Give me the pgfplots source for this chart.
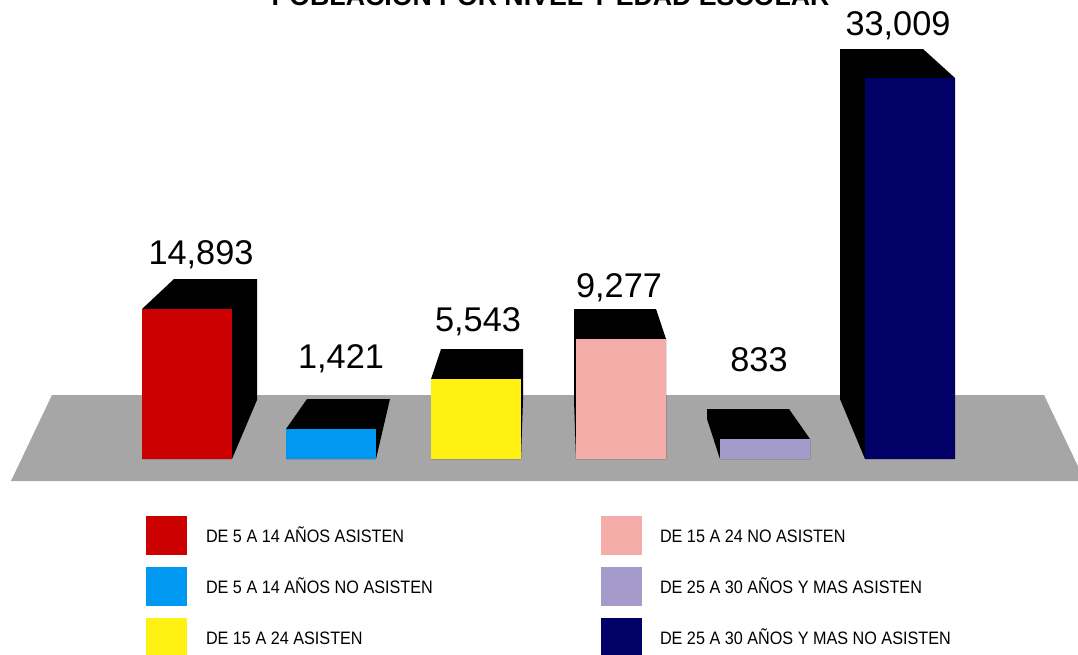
\documentclass[border=0pt]{standalone}
\usepackage{fontspec}
\setmainfont{Liberation Sans}
\newfontfamily\legfont[FakeStretch=0.9]{Liberation Sans}
\usepackage{pgfplots}
\pgfplotsset{compat=1.18}
\definecolor{cfloor}{HTML}{A6A6A6}
\definecolor{cred}{HTML}{CC0000}
\definecolor{cblue}{HTML}{0098F0}
\definecolor{cyel}{HTML}{FFF212}
\definecolor{cpink}{HTML}{F5ADAA}
\definecolor{cpur}{HTML}{A59BCB}
\definecolor{cnavy}{HTML}{000066}
\begin{document}
\begin{tikzpicture}
\path[use as bounding box,clip] (0,0) rectangle (1078pt,654pt);
\begin{axis}[
  at={(0,0)},anchor=south west,
  width=1078pt,height=654pt,scale only axis,
  xmin=0,xmax=1078,ymin=0,ymax=654,y dir=reverse,
  hide axis,clip=false,
  nodes near coords,point meta=explicit symbolic,
  every node near coord/.style={inner sep=0pt,outer sep=0pt,text=black},
]
% floor
\addplot[fill=cfloor,draw=none,nodes near coords=] coordinates {(52,395)(1044,395)(1085,481)(11,481)};
% black 3-D parts
\addplot[fill=black,draw=none,nodes near coords=] coordinates {(142,309)(174,279)(257,279)(257,400)(232,459)(142,459)};
\addplot[fill=black,draw=none,nodes near coords=] coordinates {(286,429)(307,399)(390,399)(376,459)(286,459)};
\addplot[fill=black,draw=none,nodes near coords=] coordinates {(431,379)(441,349)(523,349)(523,400)(521,459)(431,459)};
\addplot[fill=black,draw=none,nodes near coords=] coordinates {(574,309)(656,309)(666,339)(666,459)(576,459)(574,400)};
\addplot[fill=black,draw=none,nodes near coords=] coordinates {(707,409)(789,409)(810,439)(810,459)(720,459)(707,419)};
\addplot[fill=black,draw=none,nodes near coords=] coordinates {(840,49)(923,49)(955,78)(955,459)(865,459)(840,399)};
% fronts
\addplot[fill=cred,draw=none,nodes near coords=] coordinates {(142,309)(232,309)(232,459)(142,459)};
\addplot[fill=cblue,draw=none,nodes near coords=] coordinates {(286,429)(376,429)(376,459)(286,459)};
\addplot[fill=cyel,draw=none,nodes near coords=] coordinates {(431,379)(521,379)(521,459)(431,459)};
\addplot[fill=cpink,draw=none,nodes near coords=] coordinates {(576,339)(666,339)(666,459)(576,459)};
\addplot[fill=cpur,draw=none,nodes near coords=] coordinates {(720,439)(810,439)(810,459)(720,459)};
\addplot[fill=cnavy,draw=none,nodes near coords=] coordinates {(865,78)(955,78)(955,459)(865,459)};
% legend swatches
\addplot[fill=cred,draw=none,nodes near coords=] coordinates {(146,516)(187,516)(187,555)(146,555)};
\addplot[fill=cblue,draw=none,nodes near coords=] coordinates {(146,567)(187,567)(187,606)(146,606)};
\addplot[fill=cyel,draw=none,nodes near coords=] coordinates {(146,618)(187,618)(187,657)(146,657)};
\addplot[fill=cpink,draw=none,nodes near coords=] coordinates {(601,516)(642,516)(642,555)(601,555)};
\addplot[fill=cpur,draw=none,nodes near coords=] coordinates {(601,567)(642,567)(642,606)(601,606)};
\addplot[fill=cnavy,draw=none,nodes near coords=] coordinates {(601,618)(642,618)(642,657)(601,657)};
% value labels
\addplot[draw=none,nodes near coords style={anchor=base,font=\fontsize{34.3}{36}\selectfont}] coordinates {
 (201,264) [14,893]
 (341,368) [1,421]
 (478,331) [5,543]
 (619,297) [9,277]
 (759,371) [833]
 (898,35) [33,009]
};
% legend text
\addplot[draw=none,nodes near coords style={anchor=base west,font=\legfont\fontsize{18}{20}\selectfont}] coordinates {
 (206,542) [DE 5 A 14 AÑOS ASISTEN]
 (206,593) [DE 5 A 14 AÑOS NO ASISTEN]
 (206,644) [DE 15 A 24 ASISTEN]
 (660,542) [DE 15 A 24 NO ASISTEN]
 (660,593) [DE 25 A 30 AÑOS Y MAS ASISTEN]
 (660,644) [DE 25 A 30 AÑOS Y MAS NO ASISTEN]
};
% title
\addplot[draw=none,nodes near coords style={anchor=base,font=\fontsize{26.7}{28}\selectfont\bfseries}] coordinates {
 (550.5,5) [POBLACION POR NIVEL Y EDAD ESCOLAR]
};
\end{axis}
\end{tikzpicture}
\end{document}
